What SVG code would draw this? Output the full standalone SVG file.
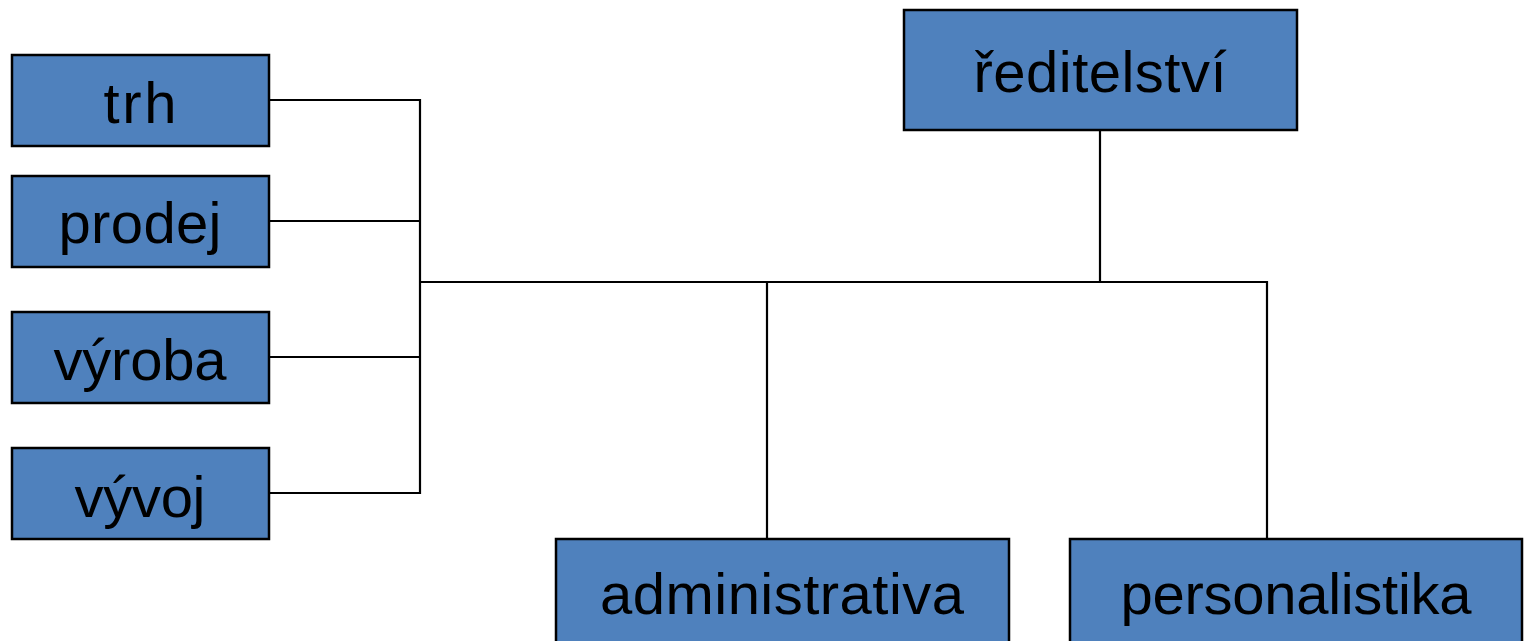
<svg xmlns="http://www.w3.org/2000/svg" width="1524" height="641" viewBox="0 0 1524 641">
<style>
.box{fill:#4F81BD;stroke:#000;stroke-width:2.5}
.lbl{font-family:"Liberation Sans",Arial,sans-serif;font-size:58px;fill:#000;text-anchor:middle}
.con{fill:none;stroke:#000;stroke-width:2.2}
</style>
<rect width="1524" height="641" fill="#fff"/>
<g id="connectors">
<path class="con" d="M1100 130V282M420 282H1267V539M767 282V539"/>
<path class="con" d="M269 100H420V493H269M269 221H420M269 357H420"/>
</g>
<g id="reditelstvi"><rect class="box" x="904" y="10" width="393" height="120"/><text class="lbl" x="1100" y="92" textLength="253">ředitelství</text></g>
<g id="trh"><rect class="box" x="12" y="55" width="257" height="91"/><text class="lbl" x="140" y="123" textLength="73">trh</text></g>
<g id="prodej"><rect class="box" x="12" y="176" width="257" height="91"/><text class="lbl" x="140" y="243" textLength="163">prodej</text></g>
<g id="vyroba"><rect class="box" x="12" y="312" width="257" height="91"/><text class="lbl" x="140" y="380" textLength="173">výroba</text></g>
<g id="vyvoj"><rect class="box" x="12" y="448" width="257" height="91"/><text class="lbl" x="140" y="517" textLength="131">vývoj</text></g>
<g id="administrativa"><rect class="box" x="556" y="539" width="453" height="120"/><text class="lbl" x="782" y="614" textLength="364">administrativa</text></g>
<g id="personalistika"><rect class="box" x="1070" y="539" width="452" height="120"/><text class="lbl" x="1296" y="614" textLength="351">personalistika</text></g>
</svg>
